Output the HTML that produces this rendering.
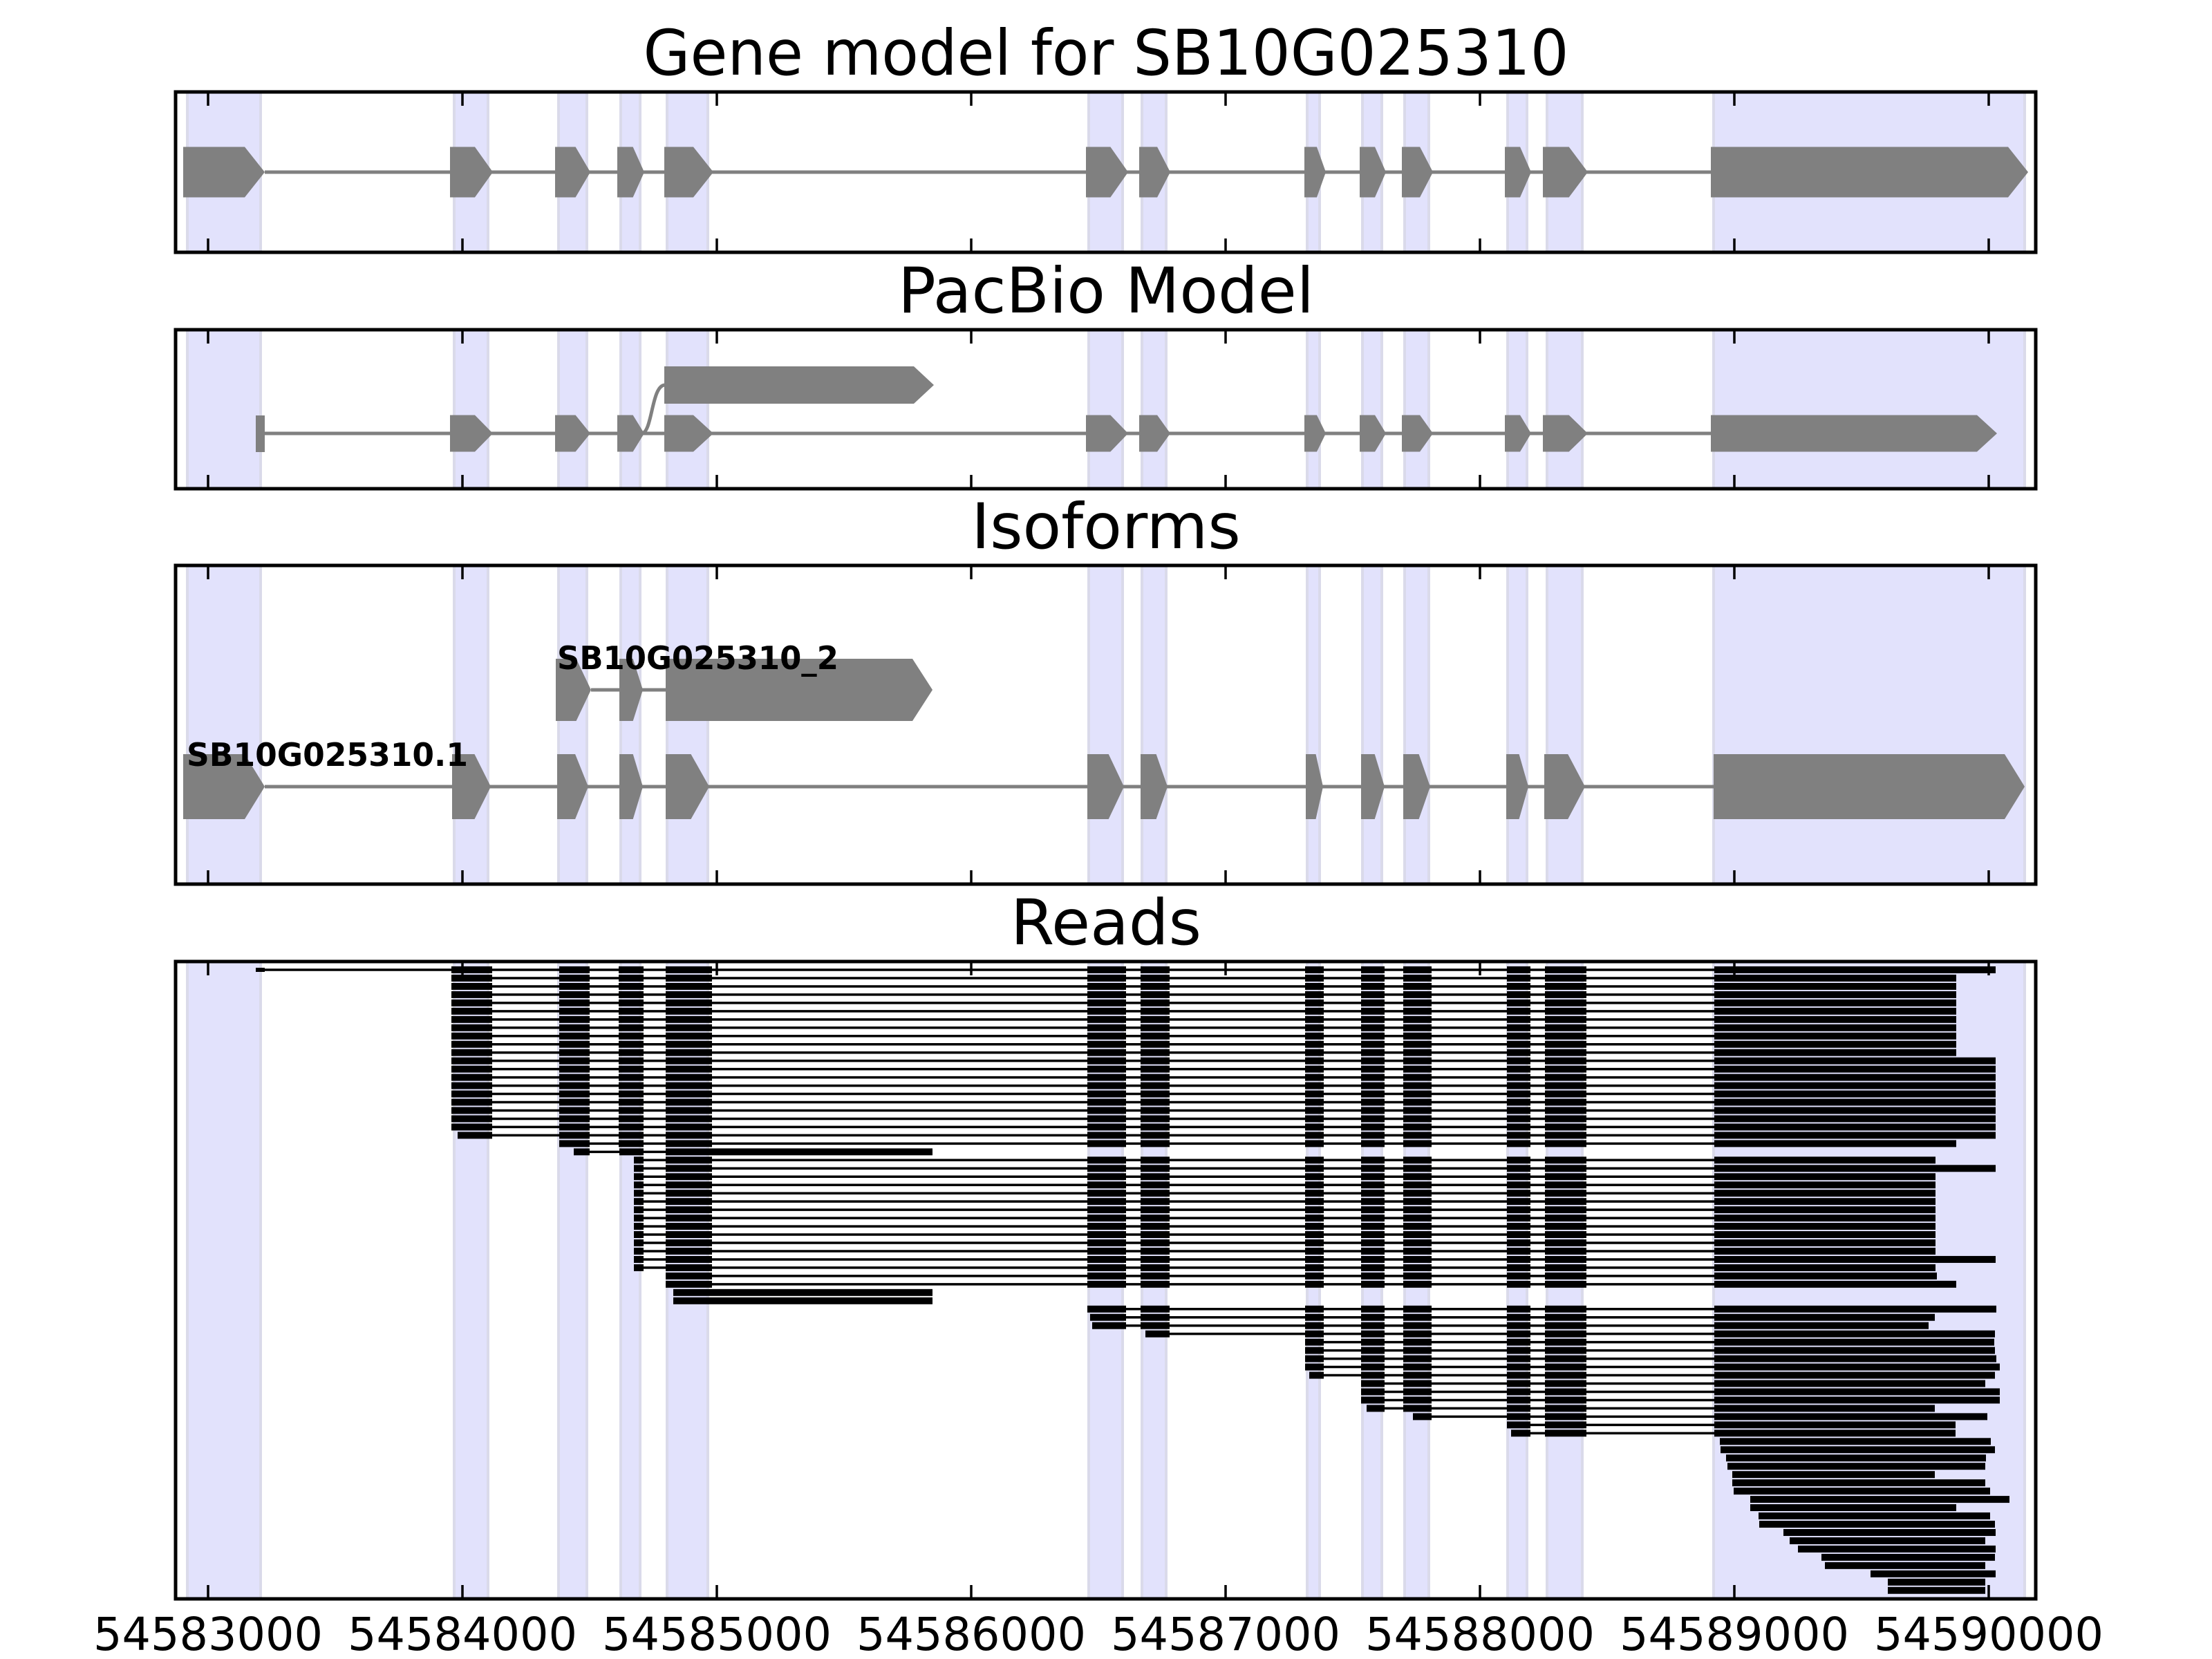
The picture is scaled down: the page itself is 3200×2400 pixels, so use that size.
<!DOCTYPE html>
<html><head><meta charset="utf-8"><style>
html,body{margin:0;padding:0;background:#fff;}
svg{display:block;}
</style></head><body>
<svg id="s" xmlns="http://www.w3.org/2000/svg" width="3200" height="2400" viewBox="0 0 3200 2400">
<rect width="3200" height="2400" fill="#fff"/>
<g id="g"></g>
<g font-family="DejaVu Sans, Liberation Sans, sans-serif" fill="#000">
<text x="1600" y="108" font-size="91" text-anchor="middle" textLength="1339" lengthAdjust="spacingAndGlyphs">Gene model for SB10G025310</text>
<text x="1600" y="452" font-size="91" text-anchor="middle">PacBio Model</text>
<text x="1600" y="793" font-size="91" text-anchor="middle">Isoforms</text>
<text x="1600" y="1366" font-size="91" text-anchor="middle">Reads</text>
<text x="270" y="1108" font-size="46" font-weight="bold" textLength="407" lengthAdjust="spacingAndGlyphs">SB10G025310.1</text>
<text x="806" y="968" font-size="46" font-weight="bold" textLength="407" lengthAdjust="spacingAndGlyphs">SB10G025310_2</text>
<text x="301" y="2387" font-size="66" text-anchor="middle" textLength="332" lengthAdjust="spacingAndGlyphs">54583000</text>
<text x="669" y="2387" font-size="66" text-anchor="middle" textLength="332" lengthAdjust="spacingAndGlyphs">54584000</text>
<text x="1037" y="2387" font-size="66" text-anchor="middle" textLength="332" lengthAdjust="spacingAndGlyphs">54585000</text>
<text x="1405" y="2387" font-size="66" text-anchor="middle" textLength="332" lengthAdjust="spacingAndGlyphs">54586000</text>
<text x="1773" y="2387" font-size="66" text-anchor="middle" textLength="332" lengthAdjust="spacingAndGlyphs">54587000</text>
<text x="2141" y="2387" font-size="66" text-anchor="middle" textLength="332" lengthAdjust="spacingAndGlyphs">54588000</text>
<text x="2509" y="2387" font-size="66" text-anchor="middle" textLength="332" lengthAdjust="spacingAndGlyphs">54589000</text>
<text x="2877" y="2387" font-size="66" text-anchor="middle" textLength="332" lengthAdjust="spacingAndGlyphs">54590000</text>
</g>
</svg>
<script>
(function(){
var NS="http://www.w3.org/2000/svg",G=document.getElementById("g"),out=[];
function add(s){out.push(s);}
var L=254,R=2945;
var axes=[[133,365],[477,707],[818,1279],[1391,2313]];
var shade=[[271,377],[657,706],[808,849],[898,926],[965,1024],[1575,1624],[1652,1687],[1891,1909],[1971,1999],[2032,2067],[2181,2209],[2238,2289],[2479,2929]];
function arrow(x1,x2,yc,h,amax){var a=Math.min(amax===undefined?29:amax,0.42*(x2-x1));
add('<polygon fill="#808080" points="'+x1+','+(yc-h)+' '+(x2-a)+','+(yc-h)+' '+x2+','+yc+' '+(x2-a)+','+(yc+h)+' '+x1+','+(yc+h)+'"/>');}
function line(x1,x2,y,c,w){add('<line x1="'+x1+'" x2="'+x2+'" y1="'+y+'" y2="'+y+'" stroke="'+(c||"#808080")+'" stroke-width="'+(w||5)+'"/>');}
function rect(x,y,w,h,c){add('<rect x="'+x+'" y="'+y+'" width="'+w+'" height="'+h+'" fill="'+c+'"/>');}
// shading
axes.forEach(function(a){shade.forEach(function(s){
 add('<rect x="'+s[0]+'" y="'+a[0]+'" width="'+(s[1]-s[0])+'" height="'+(a[1]-a[0])+'" fill="#e2e2fc" stroke="#dadaea" stroke-width="4"/>');});});
// gene model
var gm=[[265,383],[651,713],[803,854],[893,932],[961,1032],[1571,1632],[1648,1693],[1887,1918],[1967,2005],[2028,2073],[2177,2215],[2232,2297],[2475,2934]];
line(383,2475,249);
gm.forEach(function(e){arrow(e[0],e[1],249,36.5);});
// pacbio
var pb=gm.slice(1,12).concat([[2475,2889]]);
line(383,2475,627);
rect(370,601,13,53,"#808080");
pb.forEach(function(e){arrow(e[0],e[1],627,26.5);});
add('<path d="M928,627 C944,627 942,557 962,557" fill="none" stroke="#808080" stroke-width="5"/>');
arrow(961,1351,557,27);
// isoforms
var iso=[[265,383],[654,710],[806,851],[896,930],[963,1026],[1573,1626],[1650,1689],[1889,1914],[1969,2003],[2030,2069],[2179,2211],[2234,2293],[2479,2929]];
line(383,2479,1138);
iso.forEach(function(e){arrow(e[0],e[1],1138,47);});
line(855,963,998);
[[804,855],[896,930],[963,1349]].forEach(function(e){arrow(e[0],e[1],998,45);});
// reads
var B=[[653,712],[809,853],[895,931],[963,1030],[1573,1629],[1650,1692],[1888,1915],[1969,2003],[2030,2071],[2180,2214],[2235,2295],[2480,99999]];
function read(i,s,e){var y=1403+i*11.97;var bl=[];
 B.forEach(function(b){if(b[1]>s&&b[0]<e){bl.push([Math.max(b[0],s),Math.min(b[1],e)]);}});
 if(bl.length>1)line(bl[0][0],bl[bl.length-1][1],y,"#000",3.5);
 bl.forEach(function(b){rect(b[0],y-5,b[1]-b[0],10,"#000");});}
var rows=[];
rows[0]=null;
var y0=1403;
line(370,653,y0,"#000",3.5);rect(370,y0-3,13,6,"#000");read(0,653,2887);
for(var i=1;i<=19;i++)read(i,653,i<=10?2830:2887);
read(20,662,2887);read(21,809,2830);
(function(){var y=1403+22*11.97;line(830,963,y,"#000",3.5);rect(830,y-5,23,10,"#000");rect(896,y-5,35,10,"#000");rect(963,y-5,386,10,"#000");})();
for(i=23;i<=36;i++)read(i,917,(i==24||i==35)?2887:2800);
read(37,963,2802);read(38,963,2830);
[39,40].forEach(function(k){var y=1403+k*11.97;rect(974,y-5,375,10,"#000");});
var mid=[[41,1573,2888],[42,1577,2799],[43,1580,2790],[44,1657,2886],[45,1888,2885],[46,1888,2886],[47,1888,2888],[48,1888,2893],[49,1894,2886],[50,1969,2872],[51,1969,2893],[52,1969,2893],[53,1977,2799],[54,2044,2875],[55,2180,2829],[56,2186,2829]];
mid.forEach(function(r){read(r[0],r[1],r[2]);});
var rt=[[2488,2880],[2489,2886],[2497,2873],[2499,2872],[2506,2799],[2506,2872],[2508,2879],[2532,2907],[2532,2830],[2544,2879],[2545,2886],[2580,2887],[2589,2872],[2601,2887],[2635,2886],[2640,2872],[2706,2887],[2731,2872],[2731,2872]];
rt.forEach(function(r,j){read(57+j,r[0],r[1]);});
// ticks and frames
axes.forEach(function(a){for(var k=0;k<8;k++){var x=301+368*k;
 add('<line x1="'+x+'" x2="'+x+'" y1="'+a[0]+'" y2="'+(a[0]+20)+'" stroke="#000" stroke-width="3.5"/>');
 add('<line x1="'+x+'" x2="'+x+'" y1="'+a[1]+'" y2="'+(a[1]-20)+'" stroke="#000" stroke-width="3.5"/>');}
 add('<rect x="'+L+'" y="'+a[0]+'" width="'+(R-L)+'" height="'+(a[1]-a[0])+'" fill="none" stroke="#000" stroke-width="5"/>');});
G.innerHTML=out.join("");
})();
</script>
</body></html>
